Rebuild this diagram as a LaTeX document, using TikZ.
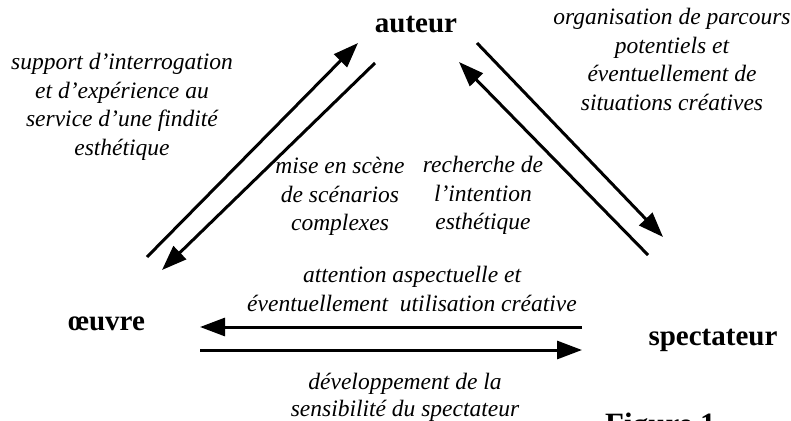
\documentclass[tikz,border=0pt]{standalone}
\usepackage{fontspec}
\setmainfont{Liberation Serif}
\usetikzlibrary{arrows.meta}
\tikzset{
  lbl/.style={font=\bfseries\fontsize{29}{34}\selectfont, inner sep=0pt, anchor=base},
  note/.style={font=\itshape\fontsize{23.5}{28.5}\selectfont, inner sep=0pt, align=center, anchor=north},
  arr/.style={line width=3pt, -{Triangle[length=25pt,width=18pt]}},
  bar/.style={line width=3pt}
}
\begin{document}
\begin{tikzpicture}[x=1pt,y=-1pt]
\path[use as bounding box] (0,0) rectangle (791,420);
\clip (0,0) rectangle (791,420);
% main labels
\node[lbl] (auteur) at (416,33) {auteur};
\node[lbl] (oeuvre) at (106.5,330) {œuvre};
\node[lbl] (spect) at (713,345) {spectateur};
\node[lbl, anchor=base west, font=\bfseries\fontsize{31}{36}\selectfont] (fig) at (605,434) {Figure 1};
% arrow end points
\coordinate (a1s) at (147,257); \coordinate (a1e) at (358,43);
\coordinate (a2s) at (375,63);  \coordinate (a2e) at (162,270);
\coordinate (a3s) at (648,255); \coordinate (a3e) at (459,62);
\coordinate (a4s) at (477,43);  \coordinate (a4e) at (663,237);
\coordinate (a5s) at (582,327); \coordinate (a5e) at (200,327);
\coordinate (a6s) at (200,350); \coordinate (a6e) at (582,350);
% arrows
\draw[arr] (a1s) -- (a1e);
\draw[arr] (a2s) -- (a2e);
\draw[arr] (a3s) -- (a3e);
\draw[arr] (a4s) -- (a4e);
\draw[arr] (a5s) -- (a5e);
\draw[arr] (a6s) -- (a6e);
% notes
\node[note] (n1) at (122,53) {support d’interrogation\\et d’expérience au\\service d’une findité\\esthétique};
\node[note] (n2) at (672,8) {organisation de parcours\\potentiels et\\éventuellement de\\situations créatives};
\node[note] (n3) at (340,157) {mise en scène\\de scénarios\\complexes};
\node[note] (n4) at (483,156) {recherche de\\l’intention\\esthétique};
\node[note] (n5) at (412,266) {attention aspectuelle et\\éventuellement\ \ utilisation créative};
\node[note, font=\itshape\fontsize{23.5}{27}\selectfont] (n6) at (405,373) {développement de la\\sensibilité du spectateur};
\end{tikzpicture}
\end{document}
